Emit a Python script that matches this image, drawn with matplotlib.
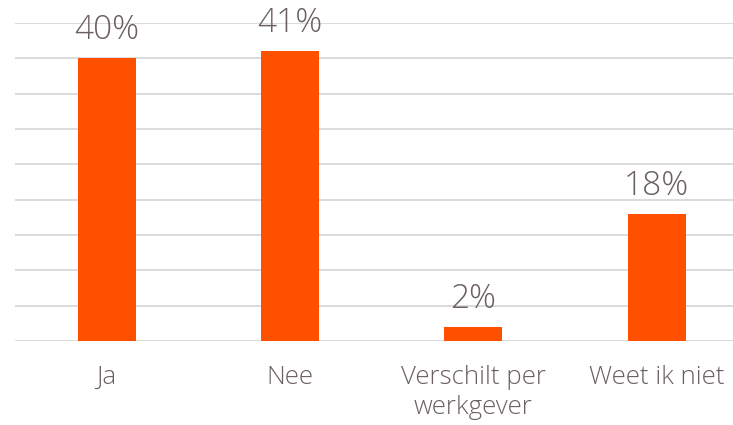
import matplotlib
matplotlib.use("Agg")
import matplotlib.pyplot as plt

# answers and share of respondents (%)
categories = ["Ja", "Nee", "Verschilt per\nwerkgever", "Weet ik niet"]
values = [40, 41, 2, 18]
value_labels = ["40%", "41%", "2%", "18%"]

bar_color = "#ff5000"
text_color = "#6a5f62"
grid_color = "#d9d9d9"

plt.rcParams["font.family"] = ["Open Sans", "DejaVu Sans"]
plt.rcParams["font.weight"] = "light"

fig = plt.figure(figsize=(7.33, 4.25), dpi=100)
ax = fig.add_axes([15 / 733, 1 - 341 / 425, 718 / 733, 318 / 425])

x = list(range(len(categories)))
bars = ax.bar(x, values, width=0.316, color=bar_color, zorder=3)

# horizontal grid every 5%
for y in range(0, 50, 5):
    ax.axhline(y, color=grid_color, linewidth=1.3, zorder=1)

for b, lab in zip(bars, value_labels):
    ax.annotate(lab, (b.get_x() + b.get_width() / 2, b.get_height()),
                xytext=(0, 13.7), textcoords="offset points",
                ha="center", va="baseline", fontsize=24, color=text_color,
                fontweight="light", annotation_clip=False)

ax.set_xlim(-0.5, -0.5 + 718 / 183.3)
ax.set_ylim(0, 45)
ax.set_xticks(x)
ax.set_xticklabels(categories, fontsize=18.6, color=text_color,
                   linespacing=1.3, fontweight="light")
ax.tick_params(axis="x", length=0, pad=17)
ax.set_yticks([])
for s in ax.spines.values():
    s.set_visible(False)

fig.savefig("out.png", dpi=100)
